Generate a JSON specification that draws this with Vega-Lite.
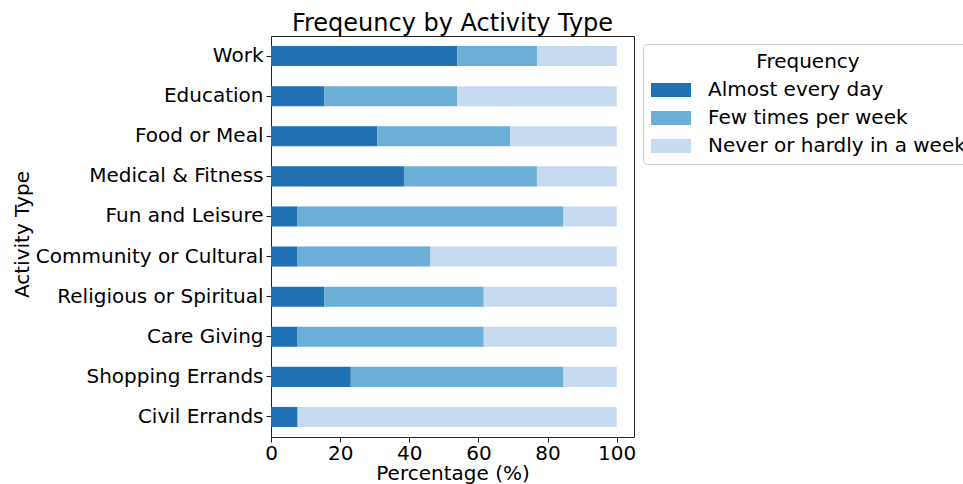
{
  "$schema": "https://vega.github.io/schema/vega-lite/v6.json",
  "width": 363,
  "height": 401,
  "autosize": {"type": "none"},
  "padding": {"left": 271, "top": 36, "right": 329, "bottom": 47},
  "background": "white",
  "title": {"text": "Freqeuncy by Activity Type", "fontSize": 24, "font": "DejaVu Sans", "fontWeight": "normal", "color": "#000", "offset": 0},
  "config": {
    "font": "DejaVu Sans",
    "view": {"stroke": "#222", "strokeWidth": 1},
    "axis": {"labelFont": "DejaVu Sans", "titleFont": "DejaVu Sans", "labelFontSize": 20, "titleFontSize": 20, "titleFontWeight": "normal", "labelColor": "#000", "titleColor": "#000", "tickColor": "#222", "tickSize": 5, "labelPadding": 3, "domain": false, "grid": false, "labelLimit": 0, "labelOverlap": false},
    "legend": {"labelFont": "DejaVu Sans", "titleFont": "DejaVu Sans"}
  },
  "data": {"values": [
    {"activity": "Work", "frequency": "Almost every day", "pct": 53.85, "rank": 1},
    {"activity": "Work", "frequency": "Few times per week", "pct": 23.08, "rank": 2},
    {"activity": "Work", "frequency": "Never or hardly in a week", "pct": 23.08, "rank": 3},
    {"activity": "Education", "frequency": "Almost every day", "pct": 15.38, "rank": 1},
    {"activity": "Education", "frequency": "Few times per week", "pct": 38.46, "rank": 2},
    {"activity": "Education", "frequency": "Never or hardly in a week", "pct": 46.15, "rank": 3},
    {"activity": "Food or Meal", "frequency": "Almost every day", "pct": 30.77, "rank": 1},
    {"activity": "Food or Meal", "frequency": "Few times per week", "pct": 38.46, "rank": 2},
    {"activity": "Food or Meal", "frequency": "Never or hardly in a week", "pct": 30.77, "rank": 3},
    {"activity": "Medical & Fitness", "frequency": "Almost every day", "pct": 38.46, "rank": 1},
    {"activity": "Medical & Fitness", "frequency": "Few times per week", "pct": 38.46, "rank": 2},
    {"activity": "Medical & Fitness", "frequency": "Never or hardly in a week", "pct": 23.08, "rank": 3},
    {"activity": "Fun and Leisure", "frequency": "Almost every day", "pct": 7.69, "rank": 1},
    {"activity": "Fun and Leisure", "frequency": "Few times per week", "pct": 76.92, "rank": 2},
    {"activity": "Fun and Leisure", "frequency": "Never or hardly in a week", "pct": 15.38, "rank": 3},
    {"activity": "Community or Cultural", "frequency": "Almost every day", "pct": 7.69, "rank": 1},
    {"activity": "Community or Cultural", "frequency": "Few times per week", "pct": 38.46, "rank": 2},
    {"activity": "Community or Cultural", "frequency": "Never or hardly in a week", "pct": 53.85, "rank": 3},
    {"activity": "Religious or Spiritual", "frequency": "Almost every day", "pct": 15.38, "rank": 1},
    {"activity": "Religious or Spiritual", "frequency": "Few times per week", "pct": 46.15, "rank": 2},
    {"activity": "Religious or Spiritual", "frequency": "Never or hardly in a week", "pct": 38.46, "rank": 3},
    {"activity": "Care Giving", "frequency": "Almost every day", "pct": 7.69, "rank": 1},
    {"activity": "Care Giving", "frequency": "Few times per week", "pct": 53.85, "rank": 2},
    {"activity": "Care Giving", "frequency": "Never or hardly in a week", "pct": 38.46, "rank": 3},
    {"activity": "Shopping Errands", "frequency": "Almost every day", "pct": 23.08, "rank": 1},
    {"activity": "Shopping Errands", "frequency": "Few times per week", "pct": 61.54, "rank": 2},
    {"activity": "Shopping Errands", "frequency": "Never or hardly in a week", "pct": 15.38, "rank": 3},
    {"activity": "Civil Errands", "frequency": "Almost every day", "pct": 7.69, "rank": 1},
    {"activity": "Civil Errands", "frequency": "Few times per week", "pct": 0, "rank": 2},
    {"activity": "Civil Errands", "frequency": "Never or hardly in a week", "pct": 92.31, "rank": 3}
  ]},
  "mark": {"type": "bar"},
  "encoding": {
    "y": {
      "field": "activity", "type": "nominal", "sort": null,
      "scale": {"paddingInner": 0.5, "paddingOuter": 0.25},
      "axis": {"title": "Activity Type", "titleX": -249, "titleY": 198, "titleAngle": -90, "titleAlign": "center", "titleBaseline": "middle"}
    },
    "x": {
      "field": "pct", "type": "quantitative", "stack": "zero",
      "scale": {"domain": [0, 105], "nice": false, "zero": true},
      "axis": {"title": "Percentage (%)", "values": [0, 20, 40, 60, 80, 100], "labelFlush": false, "labelPadding": 1, "titlePadding": 0}
    },
    "color": {
      "field": "frequency", "type": "nominal",
      "scale": {"domain": ["Almost every day", "Few times per week", "Never or hardly in a week"], "range": ["#2171b5", "#6baed6", "#c6dbef"]},
      "legend": {
        "title": "Frequency", "orient": "none", "legendX": 372, "legendY": 8,
        "titleFontSize": 20, "titleFontWeight": "normal", "titleColor": "#000", "titleAnchor": "middle", "titlePadding": 8,
        "labelFontSize": 20, "labelColor": "#000", "labelOffset": 27, "labelLimit": 0,
        "symbolType": "M-2,-0.7H2V0.7H-2Z", "symbolSize": 400, "symbolOffset": 10, "symbolStrokeWidth": 0, "symbolOpacity": 1,
        "strokeColor": "#ccc", "fillColor": "white", "cornerRadius": 4, "padding": 8, "rowPadding": 8
      }
    },
    "order": {"field": "rank", "type": "quantitative"}
  }
}
